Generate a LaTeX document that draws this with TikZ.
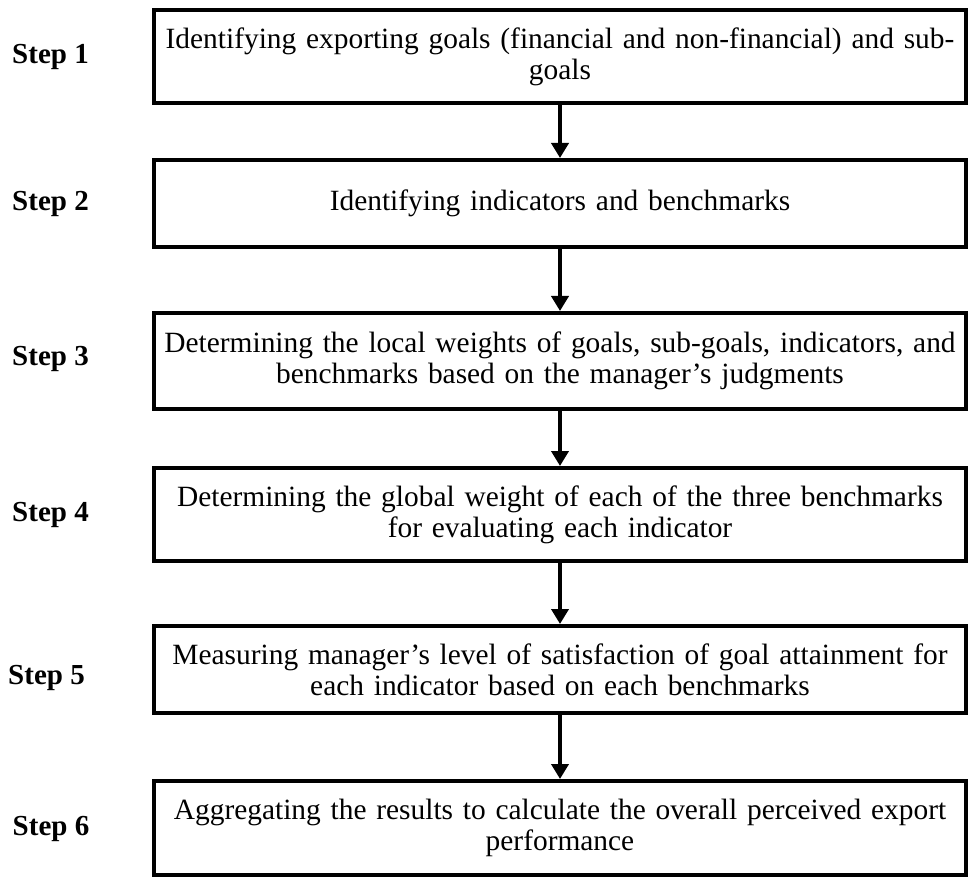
\documentclass[tikz,border=0pt]{standalone}
\usepackage{fontspec}
\setmainfont{Liberation Serif}
\usetikzlibrary{arrows.meta}

\begin{document}
\begin{tikzpicture}[x=0.5pt,y=-0.5pt,
  stepbox/.style={draw,line width=2pt,minimum width=406pt,inner sep=0pt,text width=400pt,align=center,font=\fontsize{14.7}{15.6}\selectfont},
  steplabel/.style={font=\fontsize{14.5}{16}\selectfont\bfseries},
  flow/.style={line width=2pt,-{Triangle[width=8.5pt,length=7.5pt]}}]
\useasboundingbox (0,0) rectangle (969,877);

\node [stepbox,minimum height=46.75pt] (b1) at (560,56.75) {Identifying exporting goals (financial and non-financial) and sub-\\goals};
\node [stepbox,minimum height=43.5pt] (b2) at (560,203.5) {Identifying indicators and benchmarks};
\node [stepbox,minimum height=48pt] (b3) at (560,361) {Determining the local weights of goals, sub-goals, indicators, and\\benchmarks based on the manager’s judgments};
\node [stepbox,minimum height=46.5pt] (b4) at (560,514.5) {Determining the global weight of each of the three benchmarks\\for evaluating each indicator};
\node [stepbox,minimum height=43.5pt] (b5) at (560,669.5) {Measuring manager’s level of satisfaction of goal attainment for\\each indicator based on each benchmarks};
\node [stepbox,minimum height=47pt] (b6) at (560,828) {Aggregating the results to calculate the overall perceived export\\performance};

\node [steplabel] (l1) at (50.5,57) {Step 1};
\node [steplabel] (l2) at (50.5,203.5) {Step 2};
\node [steplabel] (l3) at (50.5,359) {Step 3};
\node [steplabel] (l4) at (50.5,514.5) {Step 4};
\node [steplabel] (l5) at (46.5,678) {Step 5};
\node [steplabel] (l6) at (51,829) {Step 6};

\draw [flow] (b1) -- (b2);
\draw [flow] (b2) -- (b3);
\draw [flow] (b3) -- (b4);
\draw [flow] (b4) -- (b5);
\draw [flow] (b5) -- (b6);
\end{tikzpicture}
\end{document}
